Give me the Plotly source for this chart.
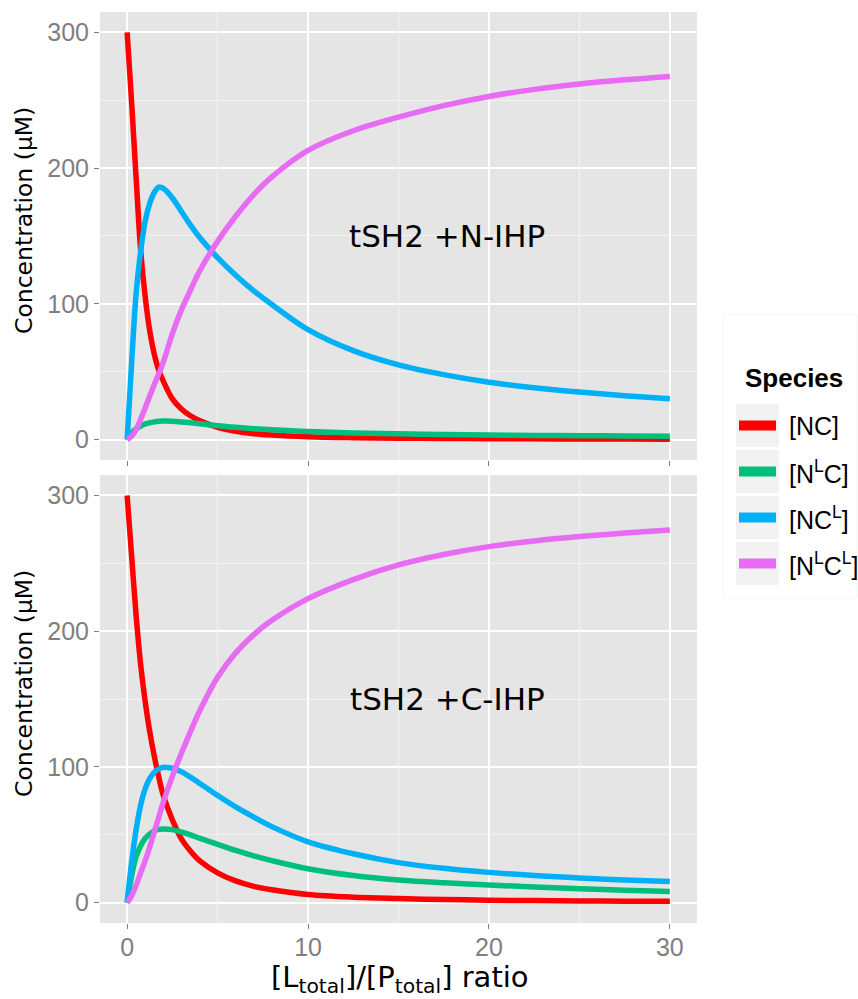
import plotly.graph_objects as go

# ---------------- data ----------------
X = [0, 0.25, 0.5, 0.75, 1, 1.25, 1.5, 1.75, 2, 2.5, 3, 3.5, 4, 5, 6, 7, 8,
     10, 12.5, 15, 17.5, 20, 22.5, 25, 27.5, 30]

# top panel: tSH2 +N-IHP
NC_N = [300, 248, 192, 139, 105, 80, 63, 51, 43, 30, 22.5, 17.5, 14, 9, 6, 4.3, 3.3,
        2.1, 1.4, 1.0, 0.8, 0.6, 0.5, 0.4, 0.35, 0.3]
NLC_N = [0, 5, 8, 10, 11.5, 12.4, 13, 13.4, 13.6, 13.5, 13, 12.4, 11.7, 10.2, 9, 8, 7.2,
         5.9, 4.9, 4.2, 3.7, 3.3, 3.0, 2.8, 2.6, 2.4]
NCL_N = [0, 57, 108, 139, 161, 174, 182, 186, 185, 178, 168, 158, 149, 134, 121, 109.5, 99.5,
         81, 65.5, 55, 47.8, 42.2, 38.2, 35, 32.3, 30]
NLCL_N = [0, 2.5, 7.5, 15, 23.5, 32, 40.5, 48.5, 57, 78, 95.5, 110, 124, 146, 164.5, 180.5, 193.5,
          213, 227.5, 237.5, 246, 252.8, 258, 262, 265, 267.5]

# bottom panel: tSH2 +C-IHP
NC_C = [300, 255, 211, 175, 148, 126, 108, 92.5, 79, 61, 47, 38, 31, 22, 16, 12, 9.5,
        6, 4, 3, 2.3, 1.8, 1.5, 1.3, 1.1, 1.0]
NLC_C = [0, 20, 34, 42, 47.5, 50.5, 52.8, 54, 54.3, 53.8, 52, 50, 47.5, 43, 38.5, 34.5, 31,
         25, 20, 16.7, 14.6, 13, 11.6, 10.3, 9.2, 8.2]
NCL_C = [0, 30, 54, 72, 84, 91.5, 96, 98.5, 99.7, 99, 96.5, 92.5, 88, 79, 70.5, 63, 56,
         44.8, 36, 29.5, 25.3, 22.3, 20, 18.2, 16.7, 15.5]
NLCL_C = [0, 5, 13, 22, 31, 41, 52, 63, 74, 93, 110, 126, 141, 166, 184, 197.5, 208,
          224, 238, 248.8, 256.5, 262.3, 266.5, 269.7, 272.3, 274.6]

SPECIES = ["[NC]", "[N<sup>L</sup>C]", "[NC<sup>L</sup>]", "[N<sup>L</sup>C<sup>L</sup>]"]
COLORS = ["#FF0000", "#00BF7D", "#00B0F6", "#E76BF3"]
PANELS = ["tSH2 +N-IHP", "tSH2 +C-IHP"]
X_TICKS = [0, 10, 20, 30]
Y_TICKS = [0, 100, 200, 300]

TOP = [NC_N, NLC_N, NCL_N, NLCL_N]
BOT = [NC_C, NLC_C, NCL_C, NLCL_C]

# ---------------- geometry ----------------
W, H = 858, 999
ML, MR, MT, MB = 100, 161, 12, 76
PW = W - ML - MR
PH = H - MT - MB


def px(v):
    return (v - ML) / PW


def py(v):
    return (H - MB - v) / PH


fig = go.Figure()
for i in range(4):
    fig.add_trace(go.Scatter(x=X, y=TOP[i], mode="lines", name=SPECIES[i],
                             line=dict(color=COLORS[i], width=5.5, shape="spline", smoothing=1.0),
                             xaxis="x", yaxis="y", showlegend=False, hoverinfo="skip"))
    fig.add_trace(go.Scatter(x=X, y=BOT[i], mode="lines", name=SPECIES[i],
                             line=dict(color=COLORS[i], width=5.5, shape="spline", smoothing=1.0),
                             xaxis="x2", yaxis="y2", showlegend=False, hoverinfo="skip"))

tickfont = dict(family="Liberation Sans, Arial, sans-serif", size=25, color="#7F7F7F")
xcommon = dict(range=[-1.5, 31.5], tickvals=X_TICKS, showgrid=True, gridcolor="white",
               gridwidth=1.6, zeroline=False, showline=False, ticks="outside", ticklen=5,
               tickwidth=1.3, tickcolor="#7F7F7F", tickfont=tickfont,
               minor=dict(tickvals=[5, 15, 25], showgrid=True, gridcolor="#F2F2F2",
                          gridwidth=0.9, ticks=""))
ycommon = dict(range=[-15, 315], tickvals=Y_TICKS, showgrid=True, gridcolor="white",
               gridwidth=1.6, zeroline=False, showline=False, ticks="outside", ticklen=5,
               tickwidth=1.3, tickcolor="#7F7F7F", tickfont=tickfont,
               minor=dict(tickvals=[50, 150, 250], showgrid=True, gridcolor="#F2F2F2",
                          gridwidth=0.9, ticks=""))

gap = 15.2 / PH
fig.update_layout(
    width=W, height=H,
    margin=dict(l=ML, r=MR, t=MT, b=MB, pad=0),
    paper_bgcolor="white", plot_bgcolor="#E5E5E5",
    showlegend=False,
    xaxis=dict(domain=[0, 1], anchor="y", showticklabels=False, **xcommon),
    yaxis=dict(domain=[0.5 + gap / 2, 1], anchor="x", **ycommon),
    xaxis2=dict(domain=[0, 1], anchor="y2", showticklabels=True, ticklabelstandoff=-3,
                **xcommon),
    yaxis2=dict(domain=[0, 0.5 - gap / 2], anchor="x2", **ycommon),
)

# panel labels
fig.add_annotation(x=17.7, y=150, xref="x", yref="y", text=PANELS[0], showarrow=False,
                   xanchor="center", yanchor="middle",
                   font=dict(family="DejaVu Sans", size=31, color="black"))
fig.add_annotation(x=17.7, y=150, xref="x2", yref="y2", text=PANELS[1], showarrow=False,
                   xanchor="center", yanchor="middle",
                   font=dict(family="DejaVu Sans", size=31, color="black"))

# axis titles
for yc in (221, 684):
    fig.add_annotation(x=px(24), y=py(yc), xref="paper", yref="paper",
                       text="Concentration (μM)", textangle=-90, showarrow=False,
                       xanchor="center", yanchor="middle",
                       font=dict(family="DejaVu Sans", size=23.5, color="black"))
fig.add_annotation(x=px(400), y=py(979), xref="paper", yref="paper",
                   text="[L<sub>total</sub>]/[P<sub>total</sub>] ratio", showarrow=False,
                   xanchor="center", yanchor="middle", borderpad=0,
                   font=dict(family="DejaVu Sans", size=29, color="black"))

# legend (ggplot style keys)
fig.add_shape(type="rect", xref="paper", yref="paper", x0=px(723), x1=px(857), y0=py(314),
              y1=py(598), fillcolor="white", line=dict(color="#F6F6F6", width=1))
fig.add_annotation(x=px(794), y=py(378), xref="paper", yref="paper", text="<b>Species</b>",
                   showarrow=False, xanchor="center", yanchor="middle",
                   font=dict(family="Liberation Sans, Arial, sans-serif", size=26, color="black"))
for i, (lab, col) in enumerate(zip(SPECIES, COLORS)):
    top = 404 + 46 * i
    fig.add_shape(type="rect", xref="paper", yref="paper", x0=px(736), x1=px(779),
                  y0=py(top + 43), y1=py(top), fillcolor="#F2F2F2", line=dict(width=0))
    fig.add_shape(type="line", xref="paper", yref="paper", x0=px(739), x1=px(776),
                  y0=py(top + 21.5), y1=py(top + 21.5), line=dict(color=col, width=10))
    fig.add_annotation(x=px(787), y=py(top + 21.5), xref="paper", yref="paper", text=lab,
                       xanchor="left", yanchor="middle", showarrow=False,
                       font=dict(family="Liberation Sans, Arial, sans-serif", size=25,
                                 color="black"))

fig.write_html("out.html")
